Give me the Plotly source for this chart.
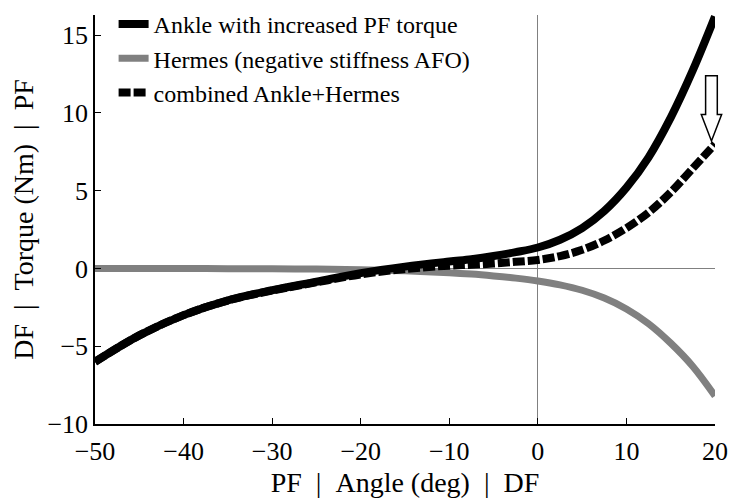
import plotly.graph_objects as go

# Data
angle_deg = [-50, -45, -40, -35, -30, -25, -20, -15, -10, -7.5, -5, -2.5, 0,
             2.5, 5, 7.5, 10, 12.5, 15, 17.5, 20]
ankle_torque = [-6.0, -4.3, -3.0, -2.05, -1.4, -0.85, -0.3, 0.12, 0.45, 0.6, 0.8, 1.05, 1.35,
                1.85, 2.6, 3.7, 5.2, 7.15, 9.7, 12.75, 16.2]
hermes_torque = [0.0, 0.0, 0.0, -0.01, -0.02, -0.04, -0.08, -0.15, -0.27, -0.36, -0.48, -0.62, -0.8,
                 -1.05, -1.4, -1.9, -2.6, -3.55, -4.8, -6.3, -8.2]
combined_torque = [-6.0, -4.3, -3.0, -2.06, -1.42, -0.89, -0.38, -0.03, 0.18, 0.24, 0.32, 0.43, 0.55,
                   0.8, 1.2, 1.8, 2.6, 3.6, 4.9, 6.45, 8.0]

x_ticks = [-50, -40, -30, -20, -10, 0, 10, 20]
y_ticks = [-10, -5, 0, 5, 10, 15]

x_range = [-50, 20]
y_range = [-10, 16.3]

FONT = "Liberation Serif, Times New Roman, serif"
NB = "\u00a0"

fig = go.Figure()
fig.add_trace(go.Scatter(
    x=angle_deg, y=hermes_torque, mode="lines", line_shape="spline",
    name="Hermes (negative stiffness AFO)", legendrank=2,
    line=dict(color="#808080", width=7)))
fig.add_trace(go.Scatter(
    x=angle_deg, y=ankle_torque, mode="lines", line_shape="spline",
    name="Ankle with increased PF torque", legendrank=1,
    line=dict(color="black", width=8)))
fig.add_trace(go.Scatter(
    x=angle_deg, y=combined_torque, mode="lines", line_shape="spline",
    name="combined Ankle+Hermes", legendrank=3,
    line=dict(color="black", width=8, dash="12px,3px")))

# hollow arrow annotation (paper coordinates derived from data-space positions)
L, R, T, B = 95, 14, 15, 76
W, H = 729, 500


def px(xv):
    return (xv - x_range[0]) / (x_range[1] - x_range[0])


def py(yv):
    return (yv - y_range[0]) / (y_range[1] - y_range[0])


xc, hw, hh = 19.6, 0.66, 1.15
y_top, y_base, y_tip = 12.4, 9.9, 8.2
pts = [(xc - hw, y_top), (xc + hw, y_top), (xc + hw, y_base), (xc + hh, y_base),
       (xc, y_tip), (xc - hh, y_base), (xc - hw, y_base)]
path = "M " + " L ".join(f"{px(a):.5f},{py(b):.5f}" for a, b in pts) + " Z"
fig.add_shape(type="path", path=path, xref="paper", yref="paper",
              fillcolor="white", line=dict(color="black", width=1.5), layer="above")

fig.update_layout(
    width=W, height=H,
    margin=dict(l=L, r=R, t=T, b=B, autoexpand=False),
    paper_bgcolor="white", plot_bgcolor="white",
    font=dict(family=FONT, size=26, color="black"),
    showlegend=True,
    legend=dict(x=0.03, y=1.032, xanchor="left", yanchor="top",
                bgcolor="rgba(0,0,0,0)", font=dict(family=FONT, size=24),
                tracegroupgap=0, itemwidth=30),
    xaxis=dict(range=x_range, tickvals=x_ticks, ticks="inside", ticklen=6,
               tickcolor="black", showline=True, linecolor="black", linewidth=1.5,
               showgrid=False, zeroline=True, zerolinecolor="#808080", zerolinewidth=1,
               automargin=False, ticklabelstandoff=3,
               tickfont=dict(family=FONT, size=26),
               title=dict(text=f"PF{NB}{NB}|{NB}{NB}Angle (deg){NB}{NB}|{NB}{NB}DF",
                          font=dict(family=FONT, size=28), standoff=7)),
    yaxis=dict(range=y_range, tickvals=y_ticks, ticks="inside", ticklen=6,
               tickcolor="black", showline=True, linecolor="black", linewidth=1.5,
               showgrid=False, zeroline=True, zerolinecolor="#808080", zerolinewidth=1,
               automargin=False,
               tickfont=dict(family=FONT, size=26),
               title=dict(text=f"DF{NB}{NB}|{NB}{NB}Torque (Nm){NB}{NB}|{NB}{NB}PF",
                          font=dict(family=FONT, size=28), standoff=6)),
)

fig.write_html("out.html")
